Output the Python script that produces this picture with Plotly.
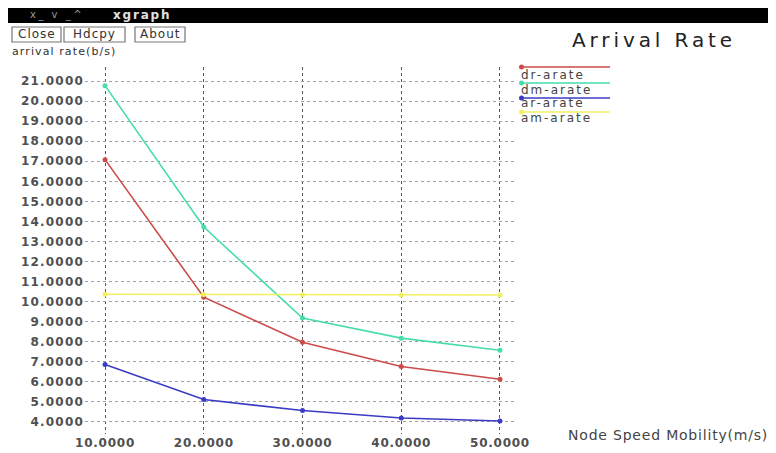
import plotly.graph_objects as go

# ---- data ----
speed = [10, 20, 30, 40, 50]
dr_arate = [17.08, 10.22, 7.97, 6.77, 6.13]
dm_arate = [20.77, 13.72, 9.18, 8.18, 7.58]
ar_arate = [6.87, 5.12, 4.57, 4.20, 4.05]
am_arate = [10.37, 10.36, 10.34, 10.33, 10.33]
series_names = ["dr-arate", "dm-arate", "ar-arate", "am-arate"]
series_colors = ["#cc4a4a", "#46dcae", "#3b3bc4", "#f2f060"]
y_ticks = list(range(4, 22))
x_ticks = speed

W, H = 776, 453
OFF = 8  # page body margin offset
# plot area in page pixels
PL, PR, PT, PB = 85, 515, 67, 434
L, R, T, B = PL - OFF, PR - OFF, PT - OFF, PB - OFF
FONT = "DejaVu Sans"


def px(x):
    return (x - PL) / (PR - PL)


def py(y):
    return (PB - y) / (PB - PT)


def sp(text, ls):
    return '<span style="letter-spacing:%spx">%s</span>' % (ls, text)


fig = go.Figure()
for name, ys, col in zip(series_names, [dr_arate, dm_arate, ar_arate, am_arate], series_colors):
    fig.add_trace(go.Scatter(
        x=speed, y=ys, name=name, mode="lines+markers",
        line=dict(color=col, width=1.6),
        marker=dict(color=col, size=5),
        showlegend=False, hoverinfo="skip"))

shapes = []
annotations = []

# title bar
shapes.append(dict(type="rect", xref="paper", yref="paper",
                   x0=px(0), x1=px(W + 10), y0=py(23), y1=py(8),
                   fillcolor="black", line=dict(width=0), layer="above"))
annotations.append(dict(xref="paper", yref="paper", x=px(28), y=py(15),
                        xanchor="left", yanchor="middle", showarrow=False,
                        text=sp("x_ v _^", 2.5), font=dict(family=FONT, size=10, color="#9a9a9a")))
annotations.append(dict(xref="paper", yref="paper", x=px(111), y=py(15),
                        xanchor="left", yanchor="middle", showarrow=False,
                        text=sp("<b>xgraph</b>", 1.8), font=dict(family=FONT, size=12, color="#e0e0e0")))

# buttons
for label, x0, x1 in [("Close", 12, 61), ("Hdcpy", 64, 125), ("About", 135, 185)]:
    shapes.append(dict(type="rect", xref="paper", yref="paper",
                       x0=px(x0), x1=px(x1), y0=py(42), y1=py(27),
                       fillcolor="white", line=dict(color="#777777", width=1.2)))
    annotations.append(dict(xref="paper", yref="paper", x=px((x0 + x1) / 2), y=py(34.5),
                            xanchor="center", yanchor="middle", showarrow=False,
                            text=sp(label, 1), font=dict(family=FONT, size=12, color="#333333")))

# y-axis label
annotations.append(dict(xref="paper", yref="paper", x=px(10), y=py(52),
                        xanchor="left", yanchor="middle", showarrow=False,
                        text=sp("arrival rate(b/s)", 1.1), font=dict(family=FONT, size=11, color="#333333")))

# chart title
annotations.append(dict(xref="paper", yref="paper", x=px(570), y=py(40),
                        xanchor="left", yanchor="middle", showarrow=False,
                        text=sp("Arrival Rate", 3.9), font=dict(family=FONT, size=20, color="#222222")))

# x-axis label
annotations.append(dict(xref="paper", yref="paper", x=px(566), y=py(435),
                        xanchor="left", yanchor="middle", showarrow=False,
                        text=sp("Node Speed Mobility(m/s)", 0.8), font=dict(family=FONT, size=14, color="#444444")))

# legend (custom, xgraph-like)
leg_line_y = [67, 83, 98, 112]
leg_text_y = [75, 90, 103, 118]
for name, col, ly, ty in zip(series_names, series_colors, leg_line_y, leg_text_y):
    shapes.append(dict(type="line", xref="paper", yref="paper",
                       x0=px(520), x1=px(610), y0=py(ly), y1=py(ly),
                       line=dict(color=col, width=1.6)))
    shapes.append(dict(type="circle", xref="paper", yref="paper",
                       x0=px(519), x1=px(524), y0=py(ly + 2.5), y1=py(ly - 2.5),
                       fillcolor=col, line=dict(color=col, width=0)))
    annotations.append(dict(xref="paper", yref="paper", x=px(519), y=py(ty),
                            xanchor="left", yanchor="middle", showarrow=False,
                            text=sp(name, 2), font=dict(family=FONT, size=12, color="#444444")))

fig.update_layout(
    width=W, height=H,
    margin=dict(l=L, r=W - R, t=T, b=H - B, pad=0, autoexpand=False),
    paper_bgcolor="white", plot_bgcolor="white",
    shapes=shapes, annotations=annotations,
    showlegend=False,
    xaxis=dict(range=[7.97, 51.52], tickvals=x_ticks,
               ticktext=[sp("<b>%.4f</b>" % v, 0.75) for v in x_ticks],
               showgrid=True, gridcolor="#555555", griddash="dot", gridwidth=1,
               zeroline=False, showline=False, ticks="", automargin=False,
               tickfont=dict(family=FONT, size=12, color="#505050")),
    yaxis=dict(range=[3.4, 21.7], tickvals=y_ticks,
               ticktext=[sp("<b>%.4f</b>" % v, 1.2) for v in y_ticks],
               showgrid=True, gridcolor="#a0a0a0", griddash="dot", gridwidth=1,
               zeroline=False, showline=False, ticks="", automargin=False,
               tickfont=dict(family=FONT, size=12, color="#505050")),
)

fig.write_html("out.html")
